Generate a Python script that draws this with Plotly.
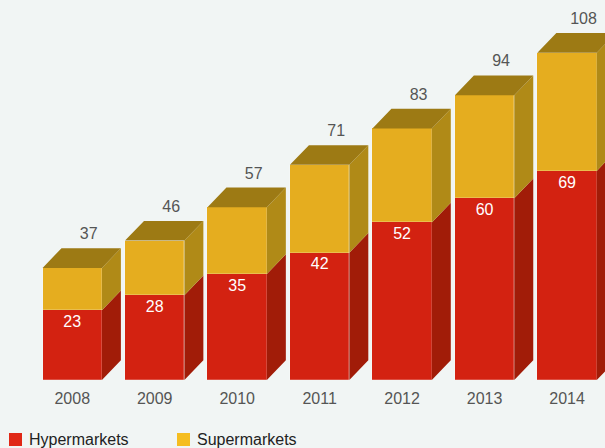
import plotly.graph_objects as go

years = ["2008", "2009", "2010", "2011", "2012", "2013", "2014"]
hypermarkets = [23, 28, 35, 42, 52, 60, 69]
supermarkets = [14, 18, 22, 29, 31, 34, 39]
totals = [h + s for h, s in zip(hypermarkets, supermarkets)]

RED_FRONT = "#D32211"
RED_SIDE = "#A11C08"
YEL_FRONT = "#E5AD1F"
YEL_SIDE = "#B08A17"
TOP = "#9D7A14"
LEG_RED = "#E02816"
LEG_YEL = "#F5BD20"
BG = "#F1F5F4"
GREY = "#555555"
FONT = "Liberation Sans, Arial, sans-serif"

W = 0.72      # bar width (category units)
DX = 0.23     # depth offset in x
DY = 6.5      # depth offset in y (value units)

idx = list(range(len(years)))

fig = go.Figure()

# 3D side and top faces
def poly_trace(xs, ys, color):
    return go.Scatter(x=xs, y=ys, mode="lines", fill="toself", fillcolor=color,
                      line=dict(width=0, color=color), hoverinfo="skip", showlegend=False)

rx, ry, yx, yy, tx, ty = [], [], [], [], [], []
for i, h, t in zip(idx, hypermarkets, totals):
    r = i + W / 2
    l = i - W / 2
    rx += [r, r + DX, r + DX, r, r, None]
    ry += [0, DY, h + DY, h, 0, None]
    yx += [r, r + DX, r + DX, r, r, None]
    yy += [h, h + DY, t + DY, t, h, None]
    tx += [l, l + DX, r + DX, r, l, None]
    ty += [t, t + DY, t + DY, t, t, None]

fig.add_trace(poly_trace(rx, ry, RED_SIDE))
fig.add_trace(poly_trace(yx, yy, YEL_SIDE))
fig.add_trace(poly_trace(tx, ty, TOP))

# front faces
fig.add_trace(go.Bar(x=idx, y=hypermarkets, width=W, name="Hypermarkets",
                     marker=dict(color=RED_FRONT, line=dict(width=0.6, color="rgba(255,255,255,0.35)")),
                     hoverinfo="skip", showlegend=False))
fig.add_trace(go.Bar(x=idx, y=supermarkets, width=W, name="Supermarkets",
                     marker=dict(color=YEL_FRONT, line=dict(width=0.6, color="rgba(255,255,255,0.35)")),
                     hoverinfo="skip", showlegend=False))

# labels
fig.add_trace(go.Scatter(x=idx, y=[h - 4.2 for h in hypermarkets], mode="text",
                         text=[str(h) for h in hypermarkets],
                         textfont=dict(family=FONT, size=16, color="white"),
                         hoverinfo="skip", showlegend=False))
fig.add_trace(go.Scatter(x=[i + 0.2 for i in idx], y=[t + 10.8 for t in totals], mode="text",
                         text=[str(t) for t in totals],
                         textfont=dict(family=FONT, size=16, color=GREY),
                         hoverinfo="skip", showlegend=False))

PL, PW, PH = 31, 574, 380
def px(x):
    return (x - PL) / PW
def py(y):
    return (PH - y) / PH

shapes = [
    dict(type="rect", xref="paper", yref="paper", x0=px(9), x1=px(22), y0=py(446), y1=py(433),
         fillcolor=LEG_RED, line=dict(width=0)),
    dict(type="rect", xref="paper", yref="paper", x0=px(177), x1=px(190), y0=py(446), y1=py(433),
         fillcolor=LEG_YEL, line=dict(width=0)),
]
annotations = [
    dict(xref="paper", yref="paper", x=px(27), y=py(439), xanchor="left", yanchor="middle",
         text="Hypermarkets", showarrow=False, font=dict(family=FONT, size=16, color="#222222")),
    dict(xref="paper", yref="paper", x=px(195), y=py(439), xanchor="left", yanchor="middle",
         text="Supermarkets", showarrow=False, font=dict(family=FONT, size=16, color="#222222")),
]

fig.update_layout(
    width=605, height=448,
    margin=dict(l=PL, r=0, t=0, b=448 - PH),
    barmode="stack", bargap=0,
    paper_bgcolor=BG, plot_bgcolor=BG,
    showlegend=False,
    shapes=shapes, annotations=annotations,
    xaxis=dict(range=[-0.5, 6.46], tickvals=idx, ticktext=years, showgrid=False,
               zeroline=False, showline=False, ticks="outside", ticklen=4,
               tickcolor="rgba(0,0,0,0)", tickfont=dict(family=FONT, size=16, color=GREY),
               fixedrange=True),
    yaxis=dict(range=[0, 125.4], visible=False, showgrid=False, zeroline=False, fixedrange=True),
)

fig.write_html("out.html")
